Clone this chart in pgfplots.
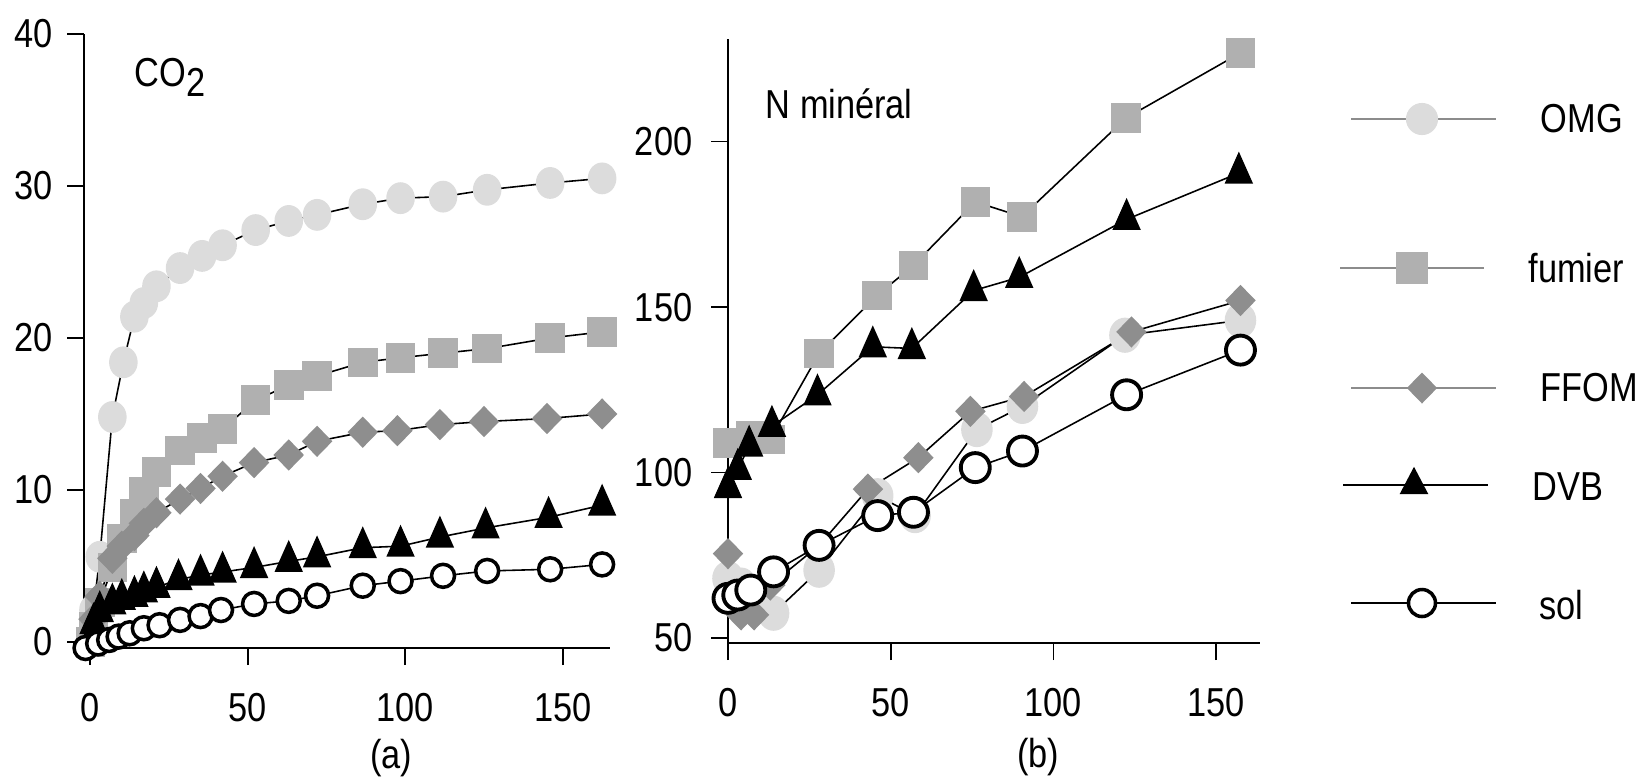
\documentclass[border=0pt]{standalone}
\usepackage{pgfplots}
\pgfplotsset{compat=1.18}
\usepackage{fontspec}
\setmainfont{Liberation Sans}[FakeStretch=0.85]

\definecolor{omg}{HTML}{DCDCDC}
\definecolor{fum}{HTML}{B0B0B0}
\definecolor{ffom}{HTML}{8E8E8E}
\definecolor{leggray}{HTML}{8C8C8C}

\pgfplotsset{
  panel/.style={
    scale only axis, clip=false,
    axis x line=bottom, axis y line=left,
    axis line style={-, line width=0.6pt},
    tick align=outside, major tick length=1.7mm,
    tick style={line width=0.5pt, black},
    ticklabel style={font=\fontsize{11.5}{13}\selectfont},
    /pgf/number format/assume math mode=true,
  },
  omg/.style={black, line width=0.45pt, mark=*, mark size=1.35mm,
    mark options={fill=omg, draw=omg, yscale=1.12}},
  fum/.style={black, line width=0.45pt, mark=square*, mark size=1.4mm,
    mark options={fill=fum, draw=fum}},
  ffom/.style={black, line width=0.45pt, mark=diamond*, mark size=1.45mm,
    mark options={fill=ffom, draw=ffom, xscale=1.3}},
  dvb/.style={black, line width=0.45pt, mark=triangle*, mark size=1.5mm,
    mark options={fill=black, draw=black, yscale=1.3}},
  sol/.style={black, line width=0.45pt, mark=*, mark size=1.15mm,
    mark options={fill=white, draw=black, line width=1pt}},
}

\begin{document}
\begin{tikzpicture}[font=\fontsize{11.5}{13}\selectfont]
\path[use as bounding box] (0,0) rectangle (164.4mm,77.8mm);

% (a) CO2
\begin{axis}[panel,
  at={(8.4mm,13.0mm)}, anchor=south west,
  width=52.6mm, height=61.4mm,
  xmin=-2, xmax=165, ymin=-0.4, ymax=40,
  xtick={0,50,100,150}, ytick={0,10,20,30,40},
  yticklabel style={anchor=east, inner sep=0pt, xshift=-1.4mm},
  xticklabel style={anchor=north, inner sep=0pt, yshift=-2.8mm},
]
\addplot[omg] coordinates {
 (0,0) (1,2.1) (3,5.6) (7,14.8) (10.5,18.4) (14,21.4) (17,22.3) (21,23.4)
 (28.5,24.6) (35.5,25.4) (42,26.1) (52.5,27.1) (63,27.7) (72,28.1)
 (86.5,28.8) (98.5,29.2) (112,29.3) (126,29.75) (146,30.2) (162.5,30.5)};
\addplot[fum] coordinates {
 (0,0) (1,1.0) (3,2.6) (7,4.9) (10,6.8) (14,8.4) (17,9.9) (21,11.2)
 (28.5,12.6) (35.5,13.4) (42,14.0) (52.5,15.9) (63,16.9) (72,17.5)
 (86.5,18.4) (98.5,18.7) (112,19.0) (126,19.3) (146,20.0) (162.5,20.4)};
\addplot[ffom] coordinates {
 (0,0) (1,1.5) (3,3.0) (7,5.5) (10,6.3) (14,7.0) (17,7.8) (21,8.5)
 (28.5,9.4) (35,10.1) (42,10.9) (52,11.8) (63,12.3) (72,13.2)
 (86.5,13.8) (97.5,13.9) (111,14.3) (125,14.5) (145,14.7) (162.5,15.0)};
\addplot[dvb] coordinates {
 (0,0) (1,1.2) (3,2.0) (7,2.5) (10,2.8) (14,3.0) (17,3.3) (21,3.6)
 (28,4.1) (35,4.4) (42,4.6) (52,4.9) (63,5.3) (72,5.6)
 (86.5,6.2) (98.5,6.3) (111,6.9) (125.5,7.5) (145.5,8.2) (162.5,9.0)};
\addplot[sol] coordinates {
 (-1.5,-0.4) (2.5,-0.1) (6,0.13) (9,0.35) (12.5,0.57) (17,0.9) (22,1.1)
 (28.5,1.45) (35,1.7) (41.5,2.1) (52,2.5) (63,2.7) (72,3.04)
 (86.5,3.7) (98.5,4.0) (112,4.35) (126,4.67) (146,4.78) (162.5,5.1)};
\node[anchor=base west, inner sep=0pt] at (rel axis cs:0.095,0.915) {CO\raisebox{-1mm}{2}};
\node[inner sep=0pt] at (rel axis cs:0.584,0) [yshift=-11mm] {(a)};
\end{axis}

% (b) N mineral
\begin{axis}[panel,
  at={(72.8mm,13.5mm)}, anchor=south west,
  width=53.2mm, height=60.4mm,
  xmin=0, xmax=163.5, ymin=48.5, ymax=231,
  xtick={0,50,100,150}, ytick={50,100,150,200},
  yticklabel style={anchor=east, inner sep=0pt, xshift=-1.8mm},
  xticklabel style={anchor=north, inner sep=0pt, yshift=-2.8mm},
]
\addplot[omg, mark size=1.5mm] coordinates {
 (0,68) (4,66) (8,60) (14,57.5) (28,70.5) (46,93) (57.5,87) (76.5,113)
 (90.5,120) (122,141.5) (157.5,146)};
\addplot[fum] coordinates {
 (0,109) (7,111) (13,110) (28,136) (45.8,153.5) (57,162.6) (76,181.8)
 (90.3,177.3) (122.3,207.1) (157.5,226.8)};
\addplot[ffom] coordinates {
 (0,75.5) (4,57) (8,57) (13,66) (28,78) (43,95) (58.5,104.5) (74.5,118.5)
 (91,123) (124,142.5) (157.5,152)};
\addplot[dvb] coordinates {
 (0,95.5) (3,101) (6.5,108) (13.5,114) (27.5,123.5) (44.5,138) (56.5,137.5)
 (75.5,155) (89.5,159) (122.5,176.5) (157,190.5)};
\addplot[sol, mark size=1.45mm, mark options={fill=white, draw=black, line width=1.1pt}] coordinates {
 (0,62) (3,63) (7,64.5) (14,70) (28,78) (46,87) (57,88) (76,101.5)
 (90.5,106.5) (122.5,123.5) (157.5,137)};
\node[anchor=base west, inner sep=0pt] at (rel axis cs:0.0695,0.869) {N minéral};
\node[inner sep=0pt] at (rel axis cs:0.583,0) [yshift=-11.4mm] {(b)};
\end{axis}

% legend
\begin{axis}[
  at={(126mm,0mm)}, anchor=south west, scale only axis,
  width=38.4mm, height=77.8mm, hide axis, clip=false,
  xmin=1260, xmax=1644, ymin=0, ymax=778, y dir=reverse,
]
\addplot[omg, leggray, line width=0.6pt, mark size=1.5mm,
  mark options={fill=omg, draw=omg, yscale=1}, mark indices={2}]
  coordinates {(1351,119) (1422,119) (1496,119)};
\addplot[fum, leggray, line width=0.6pt, mark size=1.5mm,
  mark options={fill=fum, draw=fum}, mark indices={2}]
  coordinates {(1340,268) (1412,268) (1484,268)};
\addplot[ffom, leggray, line width=0.6pt, mark size=1.4mm,
  mark options={fill=ffom, draw=ffom, xscale=1.3}, mark indices={2}]
  coordinates {(1351,388) (1422,388) (1496,388)};
\addplot[dvb, line width=0.6pt, mark size=1.45mm,
  mark options={fill=black, draw=black, yscale=1.1}, mark indices={2}]
  coordinates {(1343,485) (1414,485) (1488,485)};
\addplot[sol, line width=0.6pt, mark size=1.35mm,
  mark options={fill=white, draw=black, line width=1pt}, mark indices={2}]
  coordinates {(1351,603) (1422,603) (1496,603)};
\node[anchor=west, inner sep=0pt] at (axis cs:1540,119) {OMG};
\node[anchor=west, inner sep=0pt] at (axis cs:1528,268) {fumier};
\node[anchor=west, inner sep=0pt] at (axis cs:1540,388) {FFOM};
\node[anchor=west, inner sep=0pt] at (axis cs:1532,487) {DVB};
\node[anchor=west, inner sep=0pt] at (axis cs:1539,605) {sol};
\end{axis}
\end{tikzpicture}
\end{document}
